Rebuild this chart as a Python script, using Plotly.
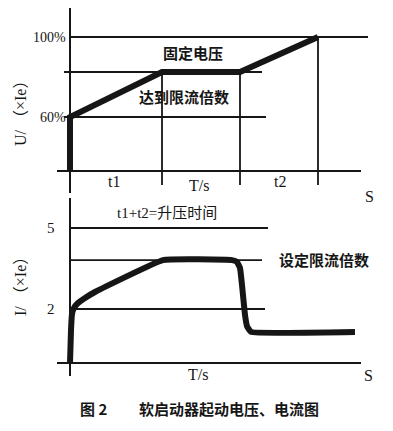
import plotly.graph_objects as go

# ---- data ----
# upper panel: voltage (% of rated) vs time (arbitrary units)
u_t = [0, 0, 9.2, 17.0, 24.8]
u_val = [33, 60, 82.5, 82.5, 100]
u_ticks = [60, 100]
u_ticktext = ["60%", "100%"]
u_levels = [100, 82.5, 60]
u_marks_t = [9.2, 17.0, 24.8]   # t1 end, plateau end, t2 end

# lower panel: current (x Ie) vs time
i_t = [0, 0.1, 0.2, 0.4, 0.8, 1.5, 2.5, 9.3, 16.2, 16.7, 17.0, 17.2, 17.5, 17.7, 18.1, 28.5]
i_val = [0, 1.22, 1.81, 2.04, 2.22, 2.41, 2.63, 3.81, 3.81, 3.74, 3.52, 2.89, 1.78, 1.37, 1.15, 1.15]
i_ticks = [2, 5]
i_ticktext = ["2", "5"]
i_levels = [5, 3.81, 2]

# page is 393x431 with the browser's default 8px body margin
OFF = 8
W, H = 393 - OFF, 431 - OFF
INK = "#161616"
SERIF = "Liberation Serif, Times New Roman, serif"
CJK = "Liberation Serif, Noto Sans CJK SC, serif"

fig = go.Figure()

fig.add_trace(go.Scatter(x=u_t, y=u_val, mode="lines", xaxis="x", yaxis="y",
                         line=dict(color=INK, width=6), hoverinfo="skip"))
fig.add_trace(go.Scatter(x=i_t, y=i_val, mode="lines", xaxis="x", yaxis="y2",
                         line=dict(color=INK, width=6, shape="spline", smoothing=0.3),
                         hoverinfo="skip"))

shapes = []
def seg(x0, y0, x1, y1, yref, w=1.8):
    shapes.append(dict(type="line", xref="x", yref=yref, x0=x0, y0=y0, x1=x1, y1=y1,
                       line=dict(color=INK, width=w)))

# upper panel axes
seg(0, 114.5, 0, 22, "y", 2)          # y axis
seg(-1.3, 33, 29.1, 33, "y", 2)       # x axis
seg(0, u_levels[0], 29.8, u_levels[0], "y")
seg(-0.6, u_levels[1], 19.2, u_levels[1], "y")
seg(-0.6, u_levels[2], 19.6, u_levels[2], "y")
seg(u_marks_t[0], u_levels[1], u_marks_t[0], 26, "y")
seg(u_marks_t[1], u_levels[1], u_marks_t[1], 26, "y")
seg(u_marks_t[2], u_levels[0], u_marks_t[2], 26, "y")

# lower panel axes
seg(0, 6.11, 0, -0.48, "y2", 2)
seg(-1.3, 0, 29.1, 0, "y2", 2)
seg(0, i_levels[0], 19.8, i_levels[0], "y2")
seg(0.1, i_levels[1], 19.2, i_levels[1], "y2")
seg(0, i_levels[2], 19.5, i_levels[2], "y2")

ann = []
def txt(px, py, s, size=15, fam=SERIF, xanchor="center", angle=0, weight="normal"):
    ann.append(dict(x=(px - OFF) / W, y=1 - (py - OFF) / H, xref="paper", yref="paper", text=s,
                    showarrow=False, xanchor=xanchor, yanchor="middle", textangle=angle,
                    font=dict(family=fam, size=size, color=INK, weight=weight)))

# tick labels
for v, t in zip(u_ticks, u_ticktext):
    ann.append(dict(x=-0.2, y=v, xref="x", yref="y", text=t, showarrow=False,
                    xanchor="right", yanchor="middle",
                    font=dict(family=SERIF, size=14, color=INK)))
for v, t in zip(i_ticks, i_ticktext):
    ann.append(dict(x=-1.3, y=v, xref="x", yref="y2", text=t, showarrow=False,
                    xanchor="right", yanchor="middle",
                    font=dict(family=SERIF, size=15, color=INK)))

txt(20, 110, "U/ （×Ie）", size=16, fam=CJK, angle=-90)
txt(20, 283, "I/ （×Ie）", size=16, fam=CJK, angle=-90)
txt(193, 53, "固定电压", size=15, fam=CJK, weight="bold")
txt(184, 98, "达到限流倍数", size=15, fam=CJK, weight="bold")
txt(114, 181, "t1", size=16)
txt(199, 186, "T/s", size=16)
txt(280, 181, "t2", size=16)
txt(369, 196, "S", size=16)
txt(167, 213, "t1+t2=升压时间", size=15, fam=CJK)
txt(324, 260, "设定限流倍数", size=15, fam=CJK, weight="bold")
txt(198, 374, "T/s", size=16)
txt(368, 375, "S", size=16)
txt(93, 408, "图 2", size=15, fam="Noto Sans CJK SC", weight="bold")
txt(229, 408, "软启动器起动电压、电流图", size=15, fam="Noto Sans CJK SC", weight="bold")

x_lo, x_hi = -(70 - OFF) / 10, (393 - 70) / 10
fig.update_layout(
    width=W, height=H, margin=dict(l=0, r=0, t=0, b=0),
    paper_bgcolor="white", plot_bgcolor="white", showlegend=False,
    shapes=shapes, annotations=ann,
    xaxis=dict(domain=[0, 1], range=[x_lo, x_hi], visible=False, fixedrange=True),
    yaxis=dict(domain=[0, 1], range=[60 - (431 - 117) / 2, 60 + (117 - OFF) / 2],
               visible=False, fixedrange=True),
    yaxis2=dict(domain=[0, 1], range=[(363 - 431) / 27, (363 - OFF) / 27], visible=False,
                overlaying="y", fixedrange=True),
)

fig.write_html("out.html")
